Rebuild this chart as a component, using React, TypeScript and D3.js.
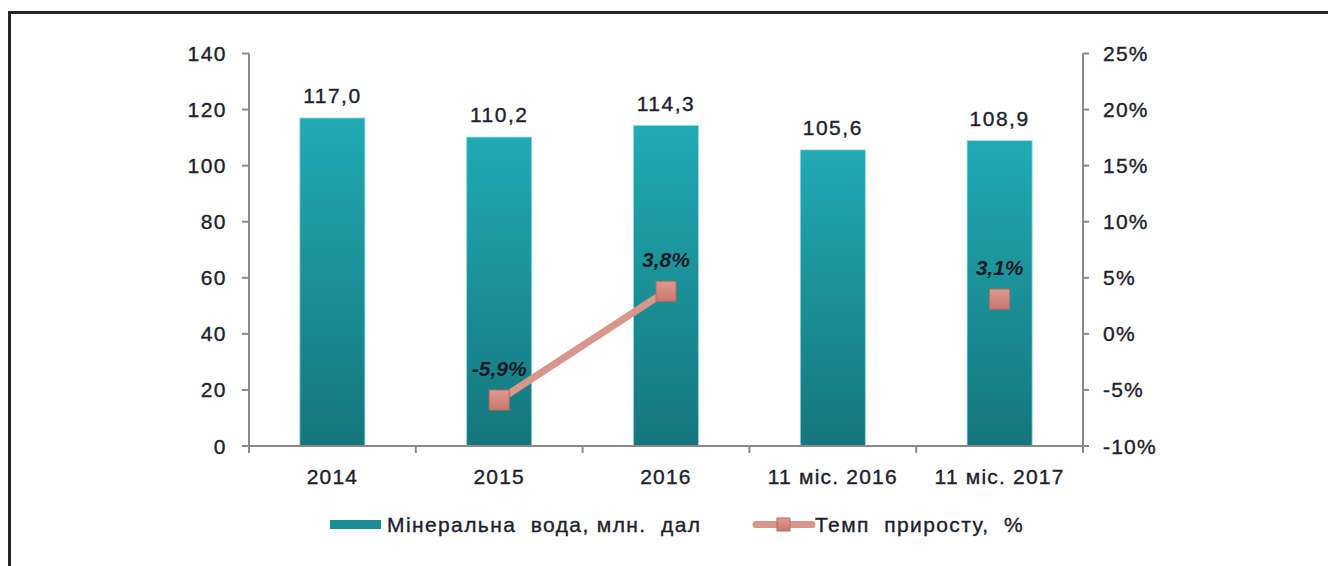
import React from "react";
import * as d3 from "d3";

const categories = ["2014", "2015", "2016", "11 міс. 2016", "11 міс. 2017"];
const volumes = [117.0, 110.2, 114.3, 105.6, 108.9];
const volumeLabels = ["117,0", "110,2", "114,3", "105,6", "108,9"];
const growth: (number | null)[] = [null, -5.9, 3.8, null, 3.1];
const growthLabels = ["", "-5,9%", "3,8%", "", "3,1%"];
const leftTicks = [0, 20, 40, 60, 80, 100, 120, 140];
const rightTicks = [-10, -5, 0, 5, 10, 15, 20, 25];
const legendBar = "Мінеральна  вода, млн.  дал";
const legendLine = "Темп  приросту,  %";

const W = 1328;
const H = 566;
const left = 249;
const right = 1083;
const top = 53.5;
const bottom = 446;
const FONT = "'Liberation Sans', Arial, sans-serif";
const TXT = "#20202c";
const FS = 21;
const txtStyle = { stroke: TXT, strokeWidth: 0.35 } as const;

export default function App() {
  const x = d3.scaleBand<string>().domain(categories).range([left, right]).paddingInner(0.61).paddingOuter(0.305);
  const band = (right - left) / categories.length;
  const yL = d3.scaleLinear().domain([0, 140]).range([bottom, top]);
  const yR = d3.scaleLinear().domain([-10, 25]).range([bottom, top]);
  const cx = (c: string) => (x(c) as number) + x.bandwidth() / 2;

  const pts = categories.map((c, i) => ({ c, v: growth[i], i }));
  const line = d3
    .line<{ c: string; v: number | null }>()
    .defined((d) => d.v !== null)
    .x((d) => cx(d.c))
    .y((d) => yR(d.v as number));

  return (
    <svg width={W} height={H} style={{ position: "absolute", left: 0, top: 0, background: "#fff" }} fontFamily={FONT}>
      <defs>
        <linearGradient id="barGrad" x1="0" y1="0" x2="0" y2="1">
          <stop offset="0%" stopColor="#21aab4" />
          <stop offset="100%" stopColor="#15767c" />
        </linearGradient>
        <linearGradient id="mkGrad" x1="0" y1="0" x2="0" y2="1">
          <stop offset="0%" stopColor="#e09a90" />
          <stop offset="100%" stopColor="#c9776d" />
        </linearGradient>
      </defs>
      <rect x={9.5} y={12.5} width={1400} height={700} fill="none" stroke="#262626" strokeWidth={3} />

      {/* bars */}
      {categories.map((c, i) => (
        <rect
          key={c}
          x={x(c)}
          y={yL(volumes[i])}
          width={x.bandwidth()}
          height={bottom - yL(volumes[i])}
          fill="url(#barGrad)"
          stroke="#8fdde2"
          strokeWidth={0.8}
        />
      ))}
      {categories.map((c, i) => (
        <text key={c} x={cx(c)} y={yL(volumes[i]) - 15} textAnchor="middle" fontSize={FS} fill={TXT} letterSpacing={1.5} style={txtStyle}>
          {volumeLabels[i]}
        </text>
      ))}

      {/* left axis */}
      <line x1={left} x2={left} y1={top} y2={bottom} stroke="#8a8a8a" strokeWidth={2} />
      {leftTicks.map((t) => (
        <g key={t}>
          <line x1={left - 7} x2={left} y1={yL(t)} y2={yL(t)} stroke="#8a8a8a" strokeWidth={2} />
          <text x={left - 22} y={yL(t) + 7.5} textAnchor="end" fontSize={FS} fill={TXT} letterSpacing={1.5} style={txtStyle}>
            {t}
          </text>
        </g>
      ))}

      {/* right axis */}
      <line x1={right} x2={right} y1={top} y2={bottom + 6} stroke="#8a8a8a" strokeWidth={2} />
      {rightTicks.map((t) => (
        <g key={t}>
          <line x1={right} x2={right + 6} y1={yR(t)} y2={yR(t)} stroke="#8a8a8a" strokeWidth={2} />
          <text x={right + 20} y={yR(t) + 7.5} textAnchor="start" fontSize={FS} fill={TXT} letterSpacing={1.2} style={txtStyle}>
            {t}%
          </text>
        </g>
      ))}

      {/* x axis */}
      <line x1={left - 6} x2={right + 6} y1={bottom} y2={bottom} stroke="#8a8a8a" strokeWidth={2} />
      {d3.range(categories.length + 1).map((k) => (
        <line key={k} x1={left + band * k} x2={left + band * k} y1={bottom} y2={bottom + 7} stroke="#8a8a8a" strokeWidth={2} />
      ))}
      {categories.map((c) => (
        <text key={c} x={cx(c)} y={484} textAnchor="middle" fontSize={FS} fill={TXT} letterSpacing={1.2} style={txtStyle}>
          {c}
        </text>
      ))}

      {/* line series */}
      <path d={line(pts) || ""} fill="none" stroke="#d9968c" strokeWidth={7} />
      {pts
        .filter((p) => p.v !== null)
        .map((p) => (
          <rect
            key={p.c}
            x={cx(p.c) - 10}
            y={yR(p.v as number) - 10}
            width={20}
            height={20}
            fill="url(#mkGrad)"
            stroke="#b86c63"
            strokeWidth={1}
          />
        ))}
      {pts
        .filter((p) => p.v !== null)
        .map((p) => (
          <text
            key={p.c}
            x={cx(p.c)}
            y={yR(p.v as number) - 24}
            textAnchor="middle"
            fontSize={21}
            fontWeight="bold"
            fontStyle="italic"
            fill="#1a1a24"
          >
            {growthLabels[p.i]}
          </text>
        ))}

      {/* legend */}
      <rect x={330} y={520} width={51} height={9} fill="#1b8e96" />
      <text x={387} y={531.5} fontSize={FS} fill={TXT} style={{ whiteSpace: "pre", ...txtStyle }} letterSpacing={1.4}>
        {legendBar}
      </text>
      <line x1={756} x2={812} y1={524.5} y2={524.5} stroke="#d9968c" strokeWidth={7} strokeLinecap="round" />
      <rect x={777} y={518} width={13} height={13} fill="url(#mkGrad)" stroke="#b86c63" strokeWidth={1} />
      <text x={815} y={531.5} fontSize={FS} fill={TXT} style={{ whiteSpace: "pre", ...txtStyle }} letterSpacing={1.4}>
        {legendLine}
      </text>
    </svg>
  );
}
